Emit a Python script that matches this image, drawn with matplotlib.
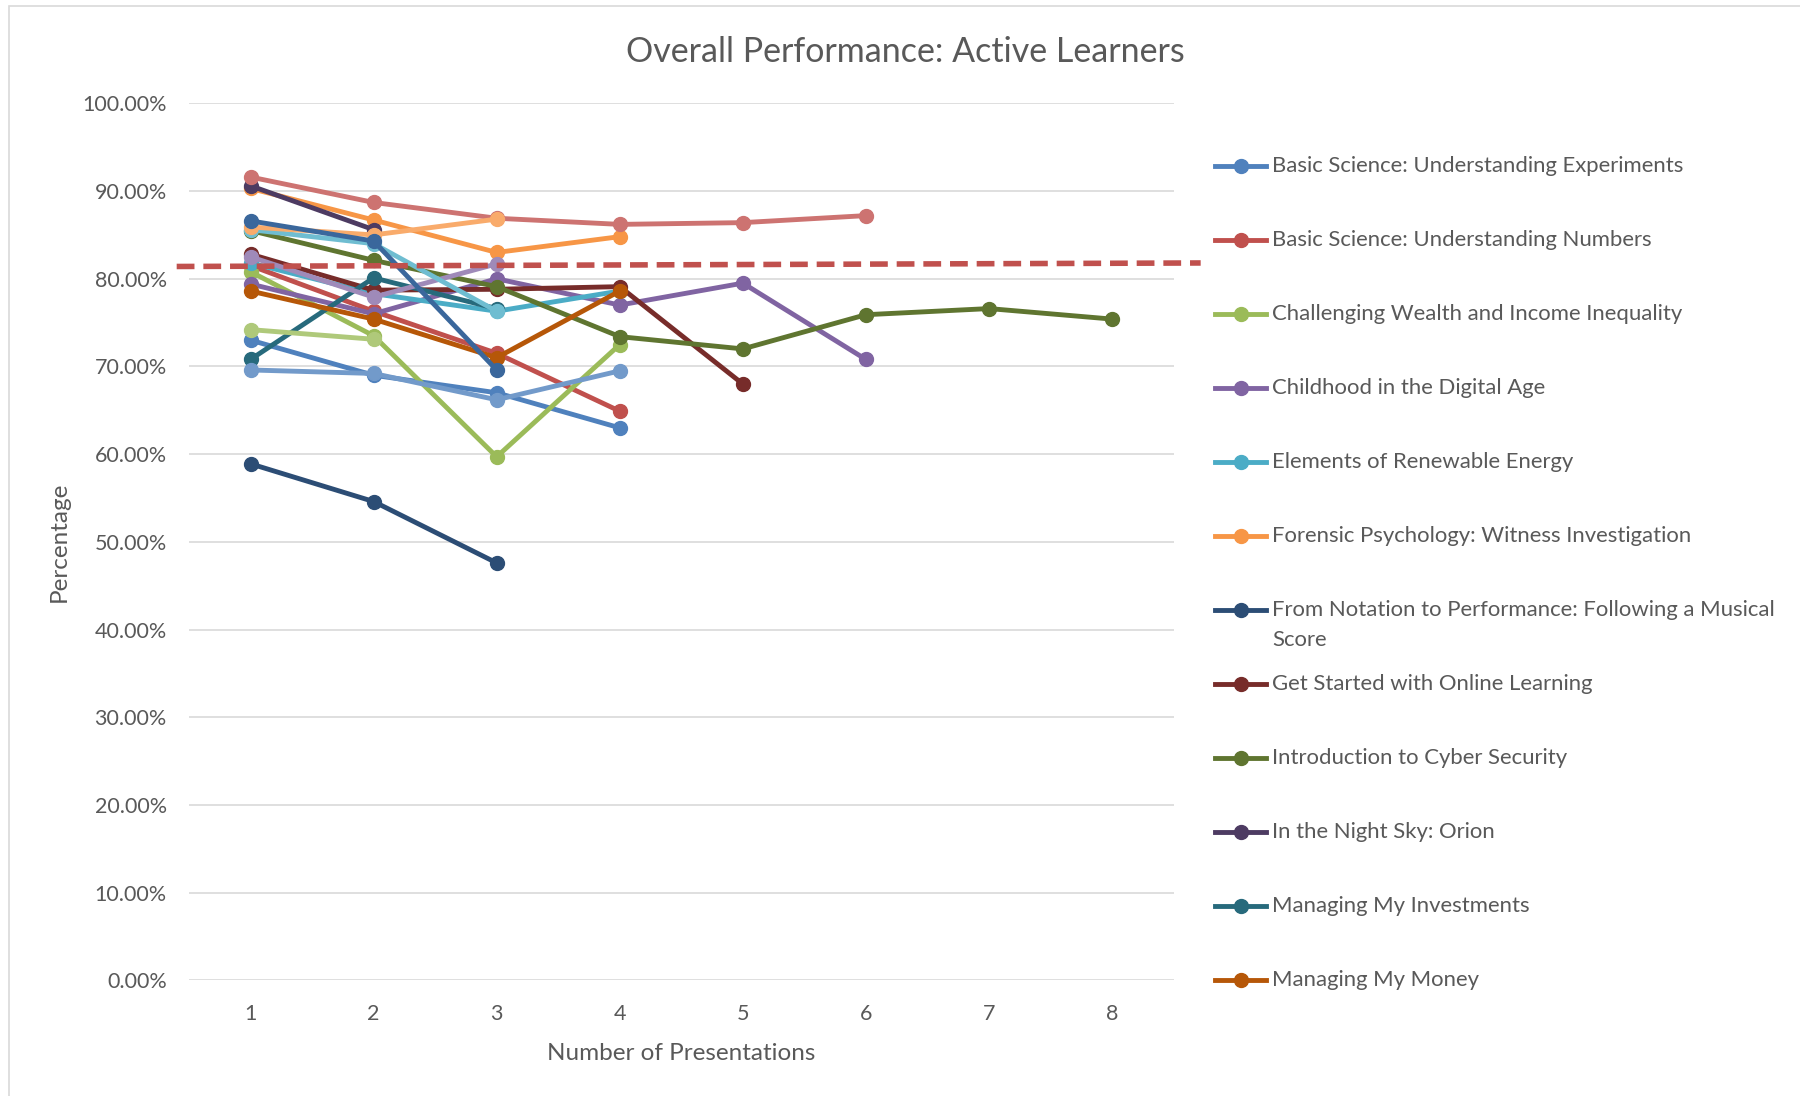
import numpy as np
import matplotlib
matplotlib.use("Agg")
import matplotlib.pyplot as plt
from matplotlib.lines import Line2D
from matplotlib.patches import Rectangle

plt.rcParams['font.family'] = ['Lato', 'DejaVu Sans']

# Courses shown in the legend, with their scores per presentation
legend_names = [
    "Basic Science: Understanding Experiments",
    "Basic Science: Understanding Numbers",
    "Challenging Wealth and Income Inequality",
    "Childhood in the Digital Age",
    "Elements of Renewable Energy",
    "Forensic Psychology: Witness Investigation",
    "From Notation to Performance: Following a Musical\nScore",
    "Get Started with Online Learning",
    "Introduction to Cyber Security",
    "In the Night Sky: Orion",
    "Managing My Investments",
    "Managing My Money",
]
basic_experiments = [73.0, 69.0, 67.0, 63.0]
basic_numbers = [81.5, 76.3, 71.5, 64.9]
wealth_inequality = [80.8, 73.5, 59.7, 72.5]
childhood_digital = [79.4, 76.0, 80.0, 77.0, 79.5, 70.8]
renewable_energy = [81.8, 78.3, 76.3, 78.6]
forensic_psych = [90.3, 86.7, 83.0, 84.8]
notation_performance = [58.9, 54.6, 47.6]
online_learning = [82.8, 78.7, 78.8, 79.1, 68.0]
cyber_security = [85.5, 82.1, 79.1, 73.4, 72.0, 75.9, 76.6, 75.4]
night_sky = [90.6, 85.6]
my_investments = [70.8, 80.1, 76.6]
my_money = [78.6, 75.4, 71.0, 78.6]

# Further series drawn on the chart but cut off from the legend
series_13 = [69.6, 69.2, 66.2, 69.5]
series_14 = [91.6, 88.7, 86.9, 86.2, 86.4, 87.2]
series_15 = [74.2, 73.1]
series_16 = [82.5, 77.9, 81.7]
series_17 = [85.6, 84.0, 76.3]
series_18 = [85.9, 85.0, 86.8]
series_19 = [86.6, 84.3, 69.6]

# Dashed reference line (start / end value)
reference_line = [81.4, 81.8]

all_series = [basic_experiments, basic_numbers, wealth_inequality, childhood_digital,
              renewable_energy, forensic_psych, notation_performance, online_learning,
              cyber_security, night_sky, my_investments, my_money,
              series_13, series_14, series_15, series_16, series_17, series_18, series_19]
colors = ['#4F81BD', '#C0504D', '#9BBB59', '#8064A2', '#4BACC6', '#F79646',
          '#2C4D75', '#772C2A', '#5F7530', '#4D3B62', '#276A7C', '#B65708',
          '#729ACA', '#CD7371', '#AFC97A', '#9F8AB9', '#6FBDD1', '#F9AB6B', '#3A679C']

fig = plt.figure(figsize=(18, 10.96), dpi=100)
ax = fig.add_axes([0.105, 0.1055, 0.547, 0.8002])

for values, col in zip(all_series, colors):
    xs = np.arange(1, len(values) + 1)
    ax.plot(xs, np.array(values) / 100, color=col, linewidth=3.5, marker='o',
            markersize=10, solid_capstyle='round')

ax.plot([0.4, 8.72], np.array(reference_line) / 100, color='#C0504D', linewidth=4,
        linestyle=(0, (3.2, 1.6)), clip_on=False, zorder=5)

ax.set_xlim(0.5, 8.5)
ax.set_ylim(0, 1.0)
ax.set_xticks(range(1, 9))
ax.set_yticks(np.arange(0, 1.01, 0.1))
ax.set_yticklabels([f"{v * 100:.2f}%" for v in np.arange(0, 1.01, 0.1)])
ax.tick_params(axis='both', length=0, labelsize=15.5, labelcolor='#595959')
ax.tick_params(axis='y', pad=16)
ax.tick_params(axis='x', pad=17)
ax.grid(axis='y', color='#D9D9D9', linewidth=1.2)
ax.set_axisbelow(True)
for s in ax.spines.values():
    s.set_visible(False)

ax.set_xlabel("Number of Presentations", fontsize=17.5, color='#595959', labelpad=14)
ax.set_ylabel("Percentage", fontsize=17.5, color='#595959', labelpad=9)

fig.text(0.503, 0.953, "Overall Performance: Active Learners", fontsize=24.5,
         color='#595959', ha='center', va='center')

# legend drawn by hand so the wrapped entry keeps the regular spacing
top_y = 1 - 166 / 1096
step = 74 / 1096
line_h = 30 / 1096
for i, (name, col) in enumerate(zip(legend_names, colors[:12])):
    y = top_y - i * step
    fig.add_artist(Line2D([1215 / 1800, 1266 / 1800], [y, y], color=col, linewidth=3.5,
                          transform=fig.transFigure))
    fig.add_artist(Line2D([1240.5 / 1800], [y], color=col, marker='o', markersize=10,
                          transform=fig.transFigure))
    for k, part in enumerate(name.split("\n")):
        fig.text(1272 / 1800, y - k * line_h, part, fontsize=15.9, color='#595959',
                 ha='left', va='center')

fig.add_artist(Rectangle((9 / 1800, -0.05), 1.1, 1 - 6 / 1096 + 0.05, fill=False,
                         edgecolor='#D9D9D9', linewidth=1.2, transform=fig.transFigure))

fig.savefig("out.png", dpi=100, facecolor='white')
